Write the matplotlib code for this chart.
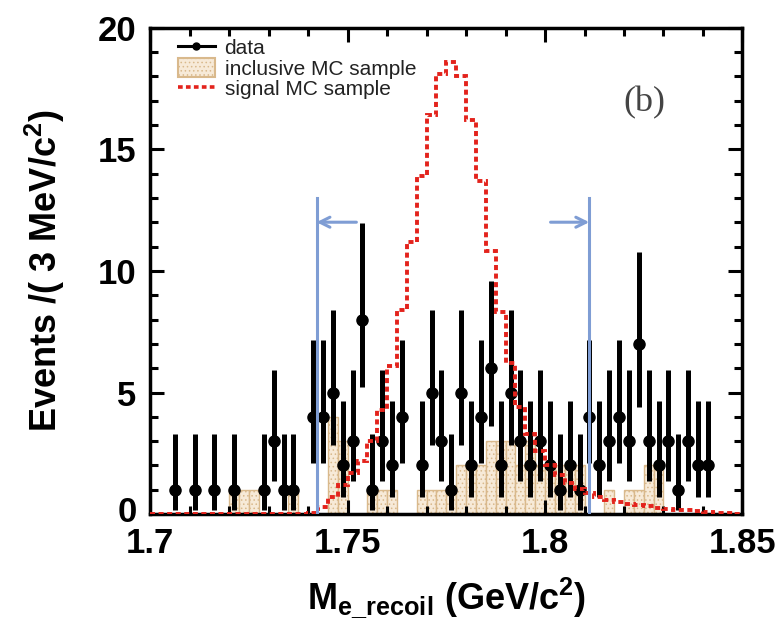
import numpy as np
import matplotlib
matplotlib.use('Agg')
import matplotlib.pyplot as plt
from matplotlib.lines import Line2D
from matplotlib.patches import Patch
from matplotlib.transforms import ScaledTranslation

plt.rcParams['font.family'] = ['Liberation Sans', 'DejaVu Sans']
plt.rcParams['hatch.linewidth'] = 0.6
plt.rcParams['mathtext.fontset'] = 'custom'
plt.rcParams['mathtext.rm'] = 'Liberation Sans:bold'
plt.rcParams['mathtext.it'] = 'Liberation Sans:bold'
plt.rcParams['mathtext.bf'] = 'Liberation Sans:bold'

# histogram binning (GeV/c^2)
bin_lo, bin_hi, bin_w = 1.70, 1.85, 0.0025
edges = np.round(np.arange(bin_lo, bin_hi + bin_w / 2, bin_w), 5)
centers = edges[:-1] + bin_w / 2

# data: bin index -> events
data_bins = [2, 4, 6, 8, 11, 12, 13, 14, 16, 17, 18, 19, 20, 21, 22, 23, 24, 25,
             27, 28, 29, 30, 31, 32, 33, 34, 35, 36, 37, 38, 39, 40, 41, 42, 43,
             44, 45, 46, 47, 48, 49, 50, 51, 52, 53, 54, 55, 56]
data_n = [1, 1, 1, 1, 1, 3, 1, 1, 4, 4, 5, 2, 3, 8, 1, 3, 2, 4,
          2, 5, 3, 1, 5, 2, 4, 6, 2, 5, 3, 2, 3, 2, 1, 2, 1,
          4, 2, 3, 4, 3, 7, 3, 2, 3, 1, 3, 2, 2]

# 68.3% Poisson (Garwood) limits for n events
poisson_lo = {1: 0.173, 2: 0.708, 3: 1.367, 4: 2.086, 5: 2.840, 6: 3.620, 7: 4.419, 8: 5.232}
poisson_hi = {1: 3.300, 2: 4.638, 3: 5.918, 4: 7.163, 5: 8.382, 6: 9.584, 7: 10.77, 8: 11.95}

# inclusive MC sample, 60 bins
incl_mc = [0, 0, 0, 0, 0, 0, 0, 0, 1, 1,
           1, 0, 0, 0, 1, 0, 0, 0, 4, 3,
           0, 0, 1, 1, 1, 0, 0, 1, 1, 1,
           1, 2, 2, 2, 3, 3, 3, 2, 3, 2,
           2, 2, 2, 2, 0, 0, 1, 0, 1, 1,
           2, 2, 0, 0, 0, 0, 0, 0, 0, 0]

# signal MC sample, 60 bins
sig_mc = [0.02, 0.02, 0.02, 0.02, 0.02, 0.02, 0.02, 0.02, 0.02, 0.02,
          0.02, 0.02, 0.02, 0.02, 0.02, 0.02, 0.05, 0.3, 0.7, 1.2,
          1.7, 2.2, 3.0, 4.3, 6.1, 8.4, 11.2, 13.9, 16.4, 18.1,
          18.6, 18.0, 16.2, 13.7, 10.8, 8.3, 6.2, 4.4, 3.3, 2.6,
          2.0, 1.6, 1.3, 1.05, 0.85, 0.7, 0.6, 0.5, 0.43, 0.37,
          0.32, 0.27, 0.22, 0.18, 0.15, 0.12, 0.09, 0.06, 0.04, 0.02]

cut_lo, cut_hi = 1.7421, 1.8112
cut_top, arrow_y = 13.0, 12.0
arrow_lo_end, arrow_hi_start = 1.7522, 1.8014

fig = plt.figure(figsize=(7.79, 6.27), dpi=100)
ax = fig.add_axes([0.193, 0.18, 0.760, 0.776])

# inclusive MC
ax.bar(centers, incl_mc, width=bin_w, color='#f7ead8', edgecolor='#d9b98c',
       linewidth=1.0, hatch='....', zorder=1)

# data
x = centers[data_bins]
n = np.array(data_n)
lo = np.array([poisson_lo[v] for v in data_n])
hi = np.array([poisson_hi[v] for v in data_n])
ax.errorbar(x, n, yerr=[n - lo, hi - n], fmt='o', color='black', ms=8,
            elinewidth=3.6, capsize=0, zorder=3)

# signal MC
ax.stairs(sig_mc, edges, color='#e3231c', linewidth=2.8,
          linestyle=(0, (1.3, 0.9)), zorder=4)

# cut lines and arrows
blue = '#7f9dd4'
ax.plot([cut_lo, cut_lo], [0, cut_top], color=blue, lw=2.2, zorder=5)
ax.plot([cut_hi, cut_hi], [0, cut_top], color=blue, lw=2.2, zorder=5)
ax.annotate('', xy=(cut_lo, arrow_y), xytext=(arrow_lo_end, arrow_y),
            arrowprops=dict(arrowstyle='->', color=blue, lw=2.2,
                            mutation_scale=18, shrinkA=0, shrinkB=0), zorder=5)
ax.annotate('', xy=(cut_hi, arrow_y), xytext=(arrow_hi_start, arrow_y),
            arrowprops=dict(arrowstyle='->', color=blue, lw=2.2,
                            mutation_scale=18, shrinkA=0, shrinkB=0), zorder=5)

ax.set_xlim(bin_lo, bin_hi)
ax.set_ylim(0, 20)

xt = [1.70, 1.75, 1.80, 1.85]
xt_labels = ['1.7', '1.75', '1.8', '1.85']
yt = [0, 5, 10, 15, 20]
ax.set_xticks(xt)
ax.set_xticklabels(xt_labels)
ax.set_yticks(yt)
ax.set_yticklabels([str(v) for v in yt])
ax.set_xticks(np.arange(1.70, 1.8501, 0.01), minor=True)
ax.set_yticks(np.arange(0, 20.1, 1), minor=True)
ax.tick_params(which='both', direction='in', top=True, right=True, width=2.2)
ax.tick_params(which='major', length=10, labelsize=25)
ax.tick_params(axis='x', which='major', pad=9)
ax.tick_params(axis='y', which='major', pad=10)
ax.tick_params(which='minor', length=5.5)
for lab in ax.get_xticklabels() + ax.get_yticklabels():
    lab.set_fontweight('bold')
for s in ax.spines.values():
    s.set_linewidth(2.5)

# lift the "0" label a little, as in the original
zero_lab = ax.yaxis.get_majorticklabels()[0]
zero_lab.set_transform(zero_lab.get_transform() +
                       ScaledTranslation(0, 5 / 100, fig.dpi_scale_trans))

ax.set_ylabel('Events /( 3 MeV/c$^{2}$)', fontsize=26, fontweight='bold', labelpad=22)
ax.set_xlabel(r'M$_{\mathregular{e\_recoil}}$ (GeV/c$^{2}$)', fontsize=26,
              fontweight='bold', labelpad=11)

ax.text(0.835, 0.845, '(b)', transform=ax.transAxes, fontsize=26,
        family='Liberation Serif', color='#444444', ha='center', va='center')

handles = [
    Line2D([], [], color='black', marker='o', ms=5, lw=2.2),
    Patch(facecolor='#f7ead8', edgecolor='#d9b98c', hatch='....', lw=1.5),
    Line2D([], [], color='#e3231c', lw=2.6, linestyle=(0, (1.3, 0.9))),
]
labels = ['data', 'inclusive MC sample', 'signal MC sample']
leg = ax.legend(handles, labels, loc='upper left', bbox_to_anchor=(0.025, 1.005),
                frameon=False, fontsize=15, handlelength=1.8, handleheight=1.0,
                handletextpad=0.45, labelspacing=0.0, borderaxespad=0.2)
for t in leg.get_texts():
    t.set_color('#222222')

fig.savefig('out.png', dpi=100)
